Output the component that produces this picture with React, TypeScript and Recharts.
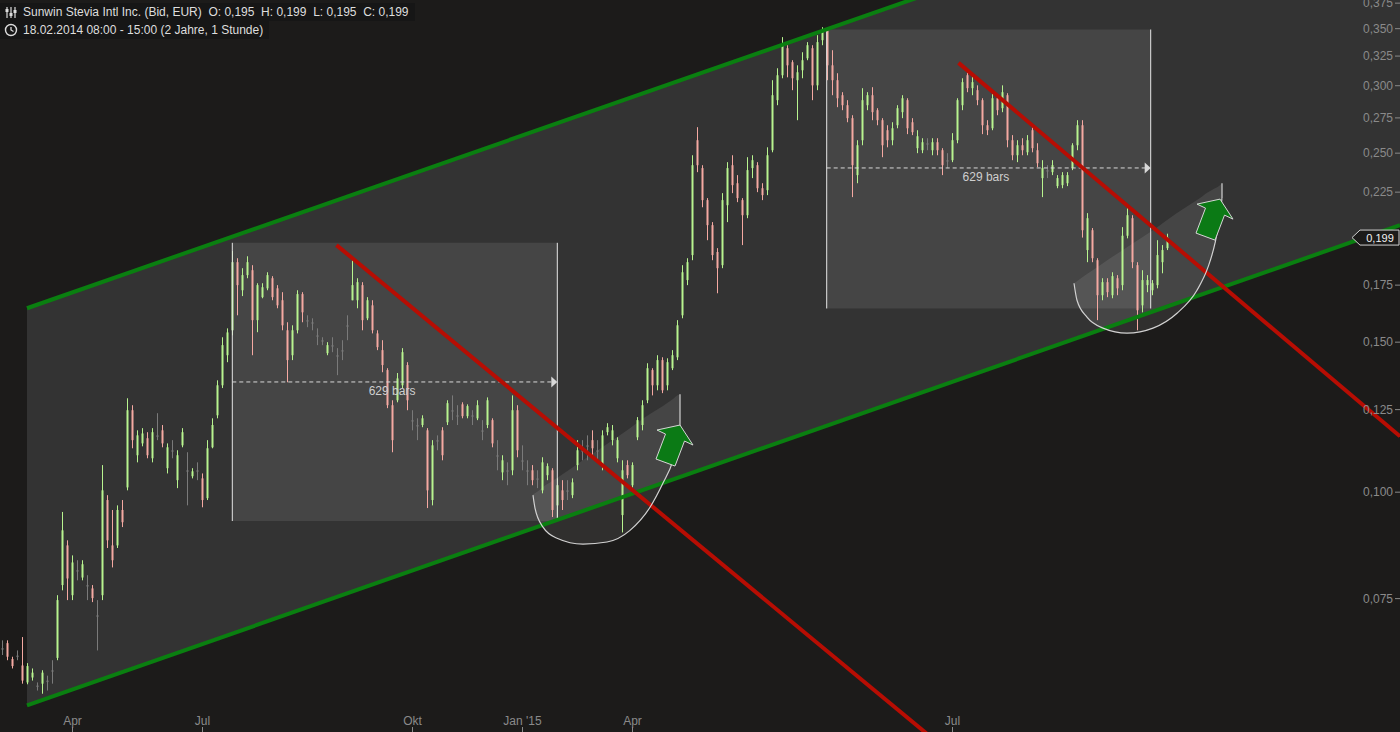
import React from 'react';
import {
  ComposedChart, Bar, Area, Line, XAxis, YAxis,
  ReferenceArea, ReferenceLine, ReferenceDot,
} from 'recharts';

const W = 1400;
const H = 732;
const FONT = '"Liberation Sans", Arial, sans-serif';

// one candle per slot: [open, high, low, close] in EUR
const ohlc = [
  [.0656, .0670, .0644, .0656], [.0665, .0670, .0635, .0641], [.0637, .0641, .0621, .0625], [.0643, .0652, .0635, .0643], [.0626, .0676, .0596, .0601], [.0598, .0630, .0595, .0625],
  [.0606, .0621, .0601, .0614], [.0593, .0598, .0585, .0593], [.0596, .0618, .0580, .0614], [.0601, .0609, .0585, .0601], [.0618, .0635, .0596, .0618], [.0639, .0757, .0635, .0747],
  [.0778, .0948, .0767, .0902], [.0866, .0878, .0747, .0792], [.0757, .0843, .0747, .0827], [.0810, .0832, .0788, .0810], [.0794, .0832, .0788, .0823], [.0778, .0799, .0747, .0778],
  [.0771, .0778, .0743, .0751], [.0717, .0747, .0652, .0717], [.0757, .1076, .0747, .1005], [.0979, .0992, .0860, .0878], [.0866, .0953, .0816, .0832], [.0866, .0965, .0860, .0953],
  [.0953, .0979, .0910, .0922], [.1013, .1289, .1005, .1248], [.1248, .1265, .1126, .1151], [.1105, .1182, .1084, .1166], [.1141, .1189, .1132, .1172], [.1157, .1176, .1096, .1105],
  [.1096, .1189, .1084, .1176], [.1166, .1238, .1151, .1166], [.1182, .1199, .1129, .1141], [.1067, .1141, .1052, .1129], [.1120, .1151, .1096, .1120], [.1033, .1120, .1011, .1105],
  [.1135, .1189, .1129, .1176], [.1061, .1114, .0965, .1061], [.1044, .1067, .1038, .1058], [.1061, .1084, .1033, .1061], [.1038, .1052, .0960, .0979], [.0984, .1151, .0979, .1126],
  [.1129, .1221, .1126, .1199], [.1231, .1353, .1221, .1335], [.1335, .1520, .1325, .1488], [.1448, .1557, .1421, .1540], [.1549, .1919, .1528, .1862], [.1862, .1882, .1613, .1750],
  [.1726, .1832, .1699, .1798], [.1798, .1892, .1783, .1862], [.1822, .1847, .1448, .1592], [.1592, .1759, .1541, .1750], [.1694, .1759, .1689, .1740], [.1735, .1812, .1726, .1798],
  [.1783, .1793, .1680, .1694], [.1735, .1750, .1644, .1657], [.1680, .1717, .1549, .1570], [.1549, .1583, .1346, .1429], [.1448, .1570, .1429, .1549], [.1549, .1726, .1536, .1708],
  [.1708, .1717, .1583, .1626], [.1592, .1613, .1562, .1592], [.1583, .1600, .1549, .1583], [.1528, .1557, .1488, .1528], [.1508, .1520, .1488, .1508], [.1456, .1500, .1448, .1488],
  [.1488, .1520, .1460, .1488], [.1448, .1476, .1372, .1448], [.1468, .1508, .1429, .1468], [.1570, .1613, .1508, .1570], [.1680, .1882, .1680, .1750], [.1680, .1783, .1644, .1764],
  [.1750, .1764, .1549, .1592], [.1600, .1694, .1592, .1680], [.1657, .1680, .1536, .1549], [.1536, .1549, .1468, .1480], [.1468, .1508, .1383, .1410], [.1391, .1398, .1255, .1265],
  [.1265, .1282, .1114, .1151], [.1282, .1380, .1275, .1360], [.1335, .1476, .1325, .1460], [.1410, .1421, .1248, .1282], [.1215, .1248, .1182, .1215], [.1199, .1221, .1151, .1199],
  [.1199, .1231, .1192, .1221], [.1182, .1189, .0958, .1005], [.0979, .1151, .0965, .1135], [.1151, .1166, .1120, .1151], [.1182, .1192, .1090, .1105], [.1208, .1282, .1199, .1272],
  [.1248, .1299, .1215, .1248], [.1231, .1265, .1199, .1231], [.1268, .1275, .1221, .1228], [.1228, .1268, .1221, .1262], [.1231, .1248, .1199, .1231], [.1221, .1282, .1215, .1265],
  [.1182, .1215, .1151, .1182], [.1199, .1292, .1189, .1282], [.1215, .1221, .1129, .1141], [.1105, .1151, .1061, .1105], [.1055, .1105, .1033, .1090], [.1061, .1084, .1019, .1061],
  [.1061, .1299, .1047, .1248], [.1248, .1265, .1099, .1120], [.1090, .1135, .1061, .1090], [.1061, .1090, .1019, .1061], [.1061, .1076, .1019, .1033], [.1038, .1061, .1011, .1038],
  [.1005, .1099, .0997, .1084], [.1047, .1081, .1033, .1073], [.1061, .1067, .0935, .0953], [.0965, .1038, .0932, .1019], [.1005, .1033, .0953, .0979], [.1005, .1033, .0979, .1005],
  [.0992, .1038, .0984, .1027], [.1076, .1151, .1061, .1120], [.1120, .1151, .1090, .1120], [.1135, .1166, .1090, .1135], [.1151, .1182, .1105, .1126], [.1120, .1151, .1084, .1120],
  [.1076, .1182, .1061, .1166], [.1176, .1205, .1166, .1192], [.1151, .1199, .1135, .1182], [.1096, .1160, .1084, .1151], [.0940, .1090, .0897, .1061], [.1076, .1090, .1038, .1047],
  [.1019, .1084, .1013, .1076], [.1160, .1225, .1151, .1215], [.1199, .1282, .1182, .1265], [.1282, .1417, .1272, .1398], [.1391, .1398, .1299, .1335], [.1335, .1448, .1317, .1429],
  [.1429, .1440, .1307, .1317], [.1335, .1436, .1317, .1421], [.1398, .1468, .1391, .1448], [.1440, .1592, .1429, .1570], [.1613, .1847, .1600, .1812], [.1774, .1882, .1750, .1862],
  [.1898, .2486, .1872, .2420], [.2589, .2682, .2375, .2420], [.2401, .2420, .2160, .2202], [.2202, .2214, .1976, .2058], [.2058, .2075, .1872, .1898], [.1914, .1934, .1712, .1832],
  [.1847, .2244, .1832, .2202], [.2172, .2440, .2075, .2401], [.2420, .2486, .2244, .2293], [.2305, .2356, .2190, .2214], [.2202, .2214, .1950, .2114], [.2114, .2473, .2097, .2388],
  [.2401, .2486, .2337, .2453], [.2420, .2440, .2250, .2274], [.2274, .2305, .2202, .2232], [.2262, .2540, .2232, .2486], [.2520, .3045, .2506, .2924], [.2885, .3145, .2846, .3086],
  [.3086, .3421, .3061, .3347], [.3320, .3347, .3069, .3170], [.3197, .3214, .2964, .3061], [.3045, .3170, .2733, .3111], [.3128, .3284, .3061, .3214], [.3231, .3375, .3214, .3347],
  [.3320, .3347, .2885, .3003], [.3003, .3439, .2964, .3375], [.3393, .3514, .3347, .3467], [.3486, .3514, .3045, .3170], [.3170, .3302, .2924, .3045], [.3045, .3103, .2831, .2900],
  [.2924, .2948, .2808, .2846], [.2846, .2885, .2718, .2748], [.2748, .2770, .2220, .2420], [.2356, .2589, .2305, .2554], [.2589, .2980, .2554, .2885], [.2846, .2948, .2808, .2924],
  [.2924, .2988, .2733, .2793], [.2808, .2823, .2696, .2733], [.2733, .2748, .2473, .2554], [.2660, .2696, .2540, .2589], [.2589, .2718, .2554, .2674], [.2696, .2846, .2674, .2823],
  [.2793, .2924, .2748, .2900], [.2885, .2900, .2632, .2674], [.2718, .2748, .2625, .2646], [.2534, .2660, .2500, .2617], [.2520, .2603, .2500, .2575], [.2568, .2603, .2520, .2568],
  [.2520, .2603, .2486, .2575], [.2575, .2603, .2486, .2520], [.2520, .2534, .2356, .2420], [.2453, .2500, .2401, .2453], [.2453, .2639, .2440, .2589], [.2589, .2900, .2568, .2885],
  [.2846, .3061, .2808, .3029], [.3086, .3128, .2948, .2980], [.2980, .3086, .2924, .3029], [.2964, .3003, .2846, .2885], [.2885, .2900, .2632, .2696], [.2696, .2733, .2625, .2660],
  [.2674, .2940, .2660, .2900], [.2900, .2924, .2770, .2808], [.2823, .3003, .2793, .2948], [.2924, .2940, .2540, .2589], [.2589, .2625, .2453, .2486], [.2486, .2589, .2440, .2554],
  [.2554, .2603, .2486, .2520], [.2506, .2625, .2486, .2589], [.2660, .2696, .2506, .2534], [.2520, .2568, .2407, .2433], [.2337, .2453, .2220, .2401], [.2388, .2420, .2337, .2388],
  [.2375, .2453, .2356, .2420], [.2287, .2356, .2274, .2337], [.2293, .2375, .2274, .2356], [.2305, .2375, .2287, .2356], [.2401, .2568, .2388, .2554], [.2554, .2733, .2520, .2696],
  [.2696, .2733, .1990, .2030], [.1924, .2126, .1862, .2097], [.2030, .2042, .1862, .1882], [.1872, .1882, .1592, .1703], [.1703, .1783, .1680, .1764], [.1764, .1783, .1694, .1717],
  [.1703, .1812, .1689, .1793], [.1783, .1798, .1703, .1735], [.1750, .2047, .1726, .2000], [.2000, .2154, .1986, .2114], [.2097, .2114, .1832, .1862], [.1847, .1862, .1549, .1635],
  [.1657, .1822, .1626, .1774], [.1750, .1798, .1717, .1774], [.1726, .1774, .1703, .1759], [.1750, .1976, .1735, .1898], [.1862, .1950, .1807, .1924], [.1934, .2011, .1924, .1990],
];

const monthTicks = [14, 40, 82, 104, 126, 190];
const monthLabels = ['Apr', 'Jul', 'Okt', "Jan '15", 'Apr', 'Jul'];
const priceTicks = [0.075, 0.1, 0.125, 0.15, 0.175, 0.225, 0.25, 0.275, 0.3, 0.325, 0.35, 0.375];
const lastPrice = 0.199;

// trend channel: [bar, lower, upper]
const channel = [[4.9, .0562, .1644], [279.5, .2058, .5999]];
// falling resistance lines: [[bar, price], [bar, price]]
const redLines = [[[66.8, .1950], [199.5, .0442]], [[191.2, .3191], [279.5, .1163]]];
// 629-bar boxes: [from, to, low, high, dashed level]
const boxes = [[45.96, 110.96, .0925, .1962, .1347], [164.84, 229.64, .1643, .3492, .2402]];
// rounding bottoms: [bar, arc, chord]
const arcOne = [
  [106.1, .0992, .0995], [106.5, .0958, .0997], [108.1, .0910, .1014], [110.9, .0883, .1039],
  [116.1, .0869, .1090], [120.9, .0874, .1139], [125.5, .0902, .1189], [129.5, .0960, .1235],
  [132.1, .1025, .1262], [134.1, .1090, .1286], [135.1, .1151, .1300], [135.5, .1199, .1303],
];
const arcTwo = [
  [214.3, .1759, .1759], [214.9, .1680, .1769], [216.9, .1605, .1803], [220.1, .1558, .1857],
  [224.9, .1537, .1939], [230.1, .1558, .2030], [234.9, .1622, .2126], [238.9, .1726, .2202],
  [241.1, .1837, .2250], [242.5, .1960, .2274], [243.5, .2114, .2293], [243.9, .2214, .2305],
];
// [bar, arc end, chord end]
const stubs = [[135.5, .1199, .1303], [243.9, .2214, .2305]];
const arrowTips = [[135.5, .1199], [243.5, .2208]];

const UP = '#b8f48f';
const DOWN = '#f5a9a2';
const FLAT = '#7a7a7a';

const candles = ohlc.map(([o, h, l, c], u) => ({ u, o, h, l, c }));
const channelData = channel.map(([u, lo, hi]) => ({ u, lo, hi }));
const arcData = [arcOne, arcTwo].map((a) => a.map(([u, arc, chord]) => ({ u, arc, chord })));

const Candle = (props: any) => {
  const { x, y, width, height, payload } = props;
  if (!payload || !isFinite(y) || !isFinite(height)) return null;
  const top = Math.min(y, y + height);
  const hgt = Math.abs(height);
  const cx = Math.round(x + width / 2);
  const span = Math.log(payload.h) - Math.log(payload.l);
  const at = (v: number) => (span > 0 ? top + (hgt * (Math.log(payload.h) - Math.log(v))) / span : top);
  const yo = at(payload.o);
  const yc = at(payload.c);
  const color = payload.c > payload.o ? UP : payload.c < payload.o ? DOWN : FLAT;
  return (
    <g>
      <rect x={cx} y={top} width={1} height={Math.max(1, hgt)} fill={color} />
      <rect x={cx - 0.5} y={Math.min(yo, yc)} width={2} height={Math.max(1.5, Math.abs(yc - yo))} fill={color} />
    </g>
  );
};

const arrowShape = [[0, 0], [13, 20], [4.5, 16], [-5, 41], [-24, 34], [-14.5, 9], [-23, 5]];
const GreenArrow = (p: any) => (
  <polygon
    points={arrowShape.map(([dx, dy]) => `${p.cx + dx},${p.cy + dy}`).join(' ')}
    fill="#0b7a15"
    stroke="#d6d6d6"
    strokeWidth={1}
    strokeLinejoin="round"
  />
);

const Arrowhead = (p: any) => (
  <polygon points={`${p.cx - 6},${p.cy - 5.5} ${p.cx},${p.cy} ${p.cx - 6},${p.cy + 5.5}`} fill="#d8d8d8" />
);

const PriceTag = (p: any) => (
  <g>
    <path
      d={`M${p.cx},${p.cy} L${p.cx + 8},${p.cy - 7.5} L${p.cx + 47},${p.cy - 7.5} L${p.cx + 47},${p.cy + 7.5} L${p.cx + 8},${p.cy + 7.5} Z`}
      fill="#1c1b1a"
      stroke="#d0d0d0"
      strokeWidth={1}
    />
    <text x={p.cx + 28} y={p.cy + 4} textAnchor="middle" fill="#f0f0f0" fontSize={11} fontFamily={FONT}>
      {lastPrice.toFixed(3).replace('.', ',')}
    </text>
  </g>
);

const headerLine: React.CSSProperties = {
  display: 'flex',
  alignItems: 'center',
  height: 18,
  background: '#161616',
  paddingRight: 6,
  whiteSpace: 'pre',
  width: 'fit-content',
};

export default function App() {
  return (
    <div style={{ position: 'absolute', left: 0, top: 0, width: W, height: H, background: '#1c1b1a', overflow: 'hidden' }}>
      <ComposedChart width={W} height={H} data={candles} margin={{ top: 0, right: 0, bottom: 0, left: 0 }}>
        <XAxis
          dataKey="u"
          type="number"
          domain={[-0.5, 279.5]}
          allowDataOverflow
          ticks={monthTicks}
          interval={0}
          tickFormatter={(v: number) => monthLabels[monthTicks.indexOf(v)] ?? ''}
          mirror
          axisLine={false}
          tickSize={5}
          tickLine={{ stroke: '#8a8a8a' }}
          tick={{ fill: '#8a8a8a', fontSize: 12, fontFamily: FONT }}
        />
        <YAxis
          orientation="right"
          scale="log"
          domain={[0.0523, 0.3782]}
          allowDataOverflow
          ticks={priceTicks}
          interval={0}
          tickFormatter={(v: number) => v.toFixed(3).replace('.', ',')}
          mirror
          axisLine={false}
          tickSize={5}
          tickLine={{ stroke: '#8a8a8a' }}
          tick={{ fill: '#8a8a8a', fontSize: 12, fontFamily: FONT }}
        />

        <Area
          data={channelData}
          dataKey={(d: any) => [d.lo, d.hi]}
          type="linear"
          fill="#333333"
          fillOpacity={1}
          stroke="none"
          dot={false}
          activeDot={false}
          isAnimationActive={false}
          zIndex={10}
        />

        {boxes.map(([x1, x2, lo, hi], k) => (
          <ReferenceArea key={`box${k}`} x1={x1} x2={x2} y1={lo} y2={hi} fill="#454545" fillOpacity={1} stroke="none" ifOverflow="hidden" zIndex={20} />
        ))}

        {arcData.map((d, k) => (
          <Area
            key={`band${k}`}
            data={d}
            dataKey={(p: any) => [p.arc, p.chord]}
            type="monotone"
            fill="#ffffff"
            fillOpacity={0.09}
            stroke="none"
            dot={false}
            activeDot={false}
            isAnimationActive={false}
            zIndex={30}
          />
        ))}

        <Bar dataKey={(d: any) => [d.l, d.h]} barSize={3} shape={Candle} isAnimationActive={false} zIndex={40} />

        {boxes.map(([x1, x2, lo, hi], k) => (
          <ReferenceLine key={`bl${k}`} segment={[{ x: x1, y: lo }, { x: x1, y: hi }]} stroke="#e6e6e6" strokeWidth={1} ifOverflow="hidden" zIndex={50} />
        ))}
        {boxes.map(([x1, x2, lo, hi], k) => (
          <ReferenceLine key={`br${k}`} segment={[{ x: x2, y: lo }, { x: x2, y: hi }]} stroke="#e6e6e6" strokeWidth={1} ifOverflow="hidden" zIndex={50} />
        ))}
        {boxes.map(([x1, x2, , , mid], k) => (
          <ReferenceLine
            key={`dash${k}`}
            segment={[{ x: x1, y: mid }, { x: x2 - 1.1, y: mid }]}
            stroke="#d8d8d8"
            strokeWidth={1}
            strokeDasharray="4 3"
            ifOverflow="hidden"
            zIndex={50}
            label={{ value: '629 bars', position: 'bottom', fill: '#cfcfcf', fontSize: 12, fontFamily: FONT }}
          />
        ))}

        <ReferenceLine
          segment={[{ x: channel[0][0], y: channel[0][2] }, { x: channel[1][0], y: channel[1][2] }]}
          stroke="#0a7f10"
          strokeWidth={4}
          ifOverflow="hidden"
          zIndex={55}
        />
        <ReferenceLine
          segment={[{ x: channel[0][0], y: channel[0][1] }, { x: channel[1][0], y: channel[1][1] }]}
          stroke="#0a7f10"
          strokeWidth={4}
          ifOverflow="hidden"
          zIndex={55}
        />
        {redLines.map(([a, b], k) => (
          <ReferenceLine
            key={`red${k}`}
            segment={[{ x: a[0], y: a[1] }, { x: b[0], y: b[1] }]}
            stroke="#b70d03"
            strokeWidth={4}
            ifOverflow="hidden"
            zIndex={56}
          />
        ))}

        {arcData.map((d, k) => (
          <Line
            key={`arc${k}`}
            data={d}
            dataKey="arc"
            type="monotone"
            stroke="#d2d2d2"
            strokeWidth={1.2}
            dot={false}
            activeDot={false}
            isAnimationActive={false}
            zIndex={60}
          />
        ))}
        {stubs.map(([u, a, b], k) => (
          <ReferenceLine key={`stub${k}`} segment={[{ x: u, y: a }, { x: u, y: b }]} stroke="#d2d2d2" strokeWidth={1.2} ifOverflow="hidden" zIndex={60} />
        ))}

        {boxes.map(([, x2, , , mid], k) => (
          <ReferenceDot key={`head${k}`} x={x2} y={mid} r={0} shape={Arrowhead} ifOverflow="visible" zIndex={65} />
        ))}
        {arrowTips.map(([u, v], k) => (
          <ReferenceDot key={`arrow${k}`} x={u} y={v} r={0} shape={GreenArrow} ifOverflow="visible" zIndex={70} />
        ))}
        <ReferenceDot x={269.9} y={lastPrice} r={0} shape={PriceTag} ifOverflow="visible" zIndex={700} />
      </ComposedChart>

      <div style={{ position: 'absolute', left: 0, top: 3, fontFamily: FONT, fontSize: 12, color: '#dedede' }}>
        <div style={headerLine}>
          <svg width={23} height={18}>
            <g stroke="#dedede" strokeWidth={1.2}>
              <line x1={7} y1={4} x2={7} y2={15} />
              <line x1={11} y1={4} x2={11} y2={15} />
              <line x1={15} y1={4} x2={15} y2={15} />
            </g>
            <rect x={5.5} y={6} width={3} height={3} fill="#dedede" />
            <rect x={9.5} y={10} width={3} height={3} fill="#dedede" />
            <rect x={13.5} y={7} width={3} height={3} fill="#dedede" />
          </svg>
          <span>{'Sunwin Stevia Intl Inc. (Bid, EUR)  O: 0,195  H: 0,199  L: 0,195  C: 0,199'}</span>
        </div>
        <div style={headerLine}>
          <svg width={23} height={18}>
            <circle cx={11} cy={9} r={5.5} fill="none" stroke="#dedede" strokeWidth={1.4} />
            <path d="M11 6 L11 9 L13.5 10.5" fill="none" stroke="#dedede" strokeWidth={1.3} />
          </svg>
          <span>{'18.02.2014 08:00 - 15:00 (2 Jahre, 1 Stunde)'}</span>
        </div>
      </div>
    </div>
  );
}
